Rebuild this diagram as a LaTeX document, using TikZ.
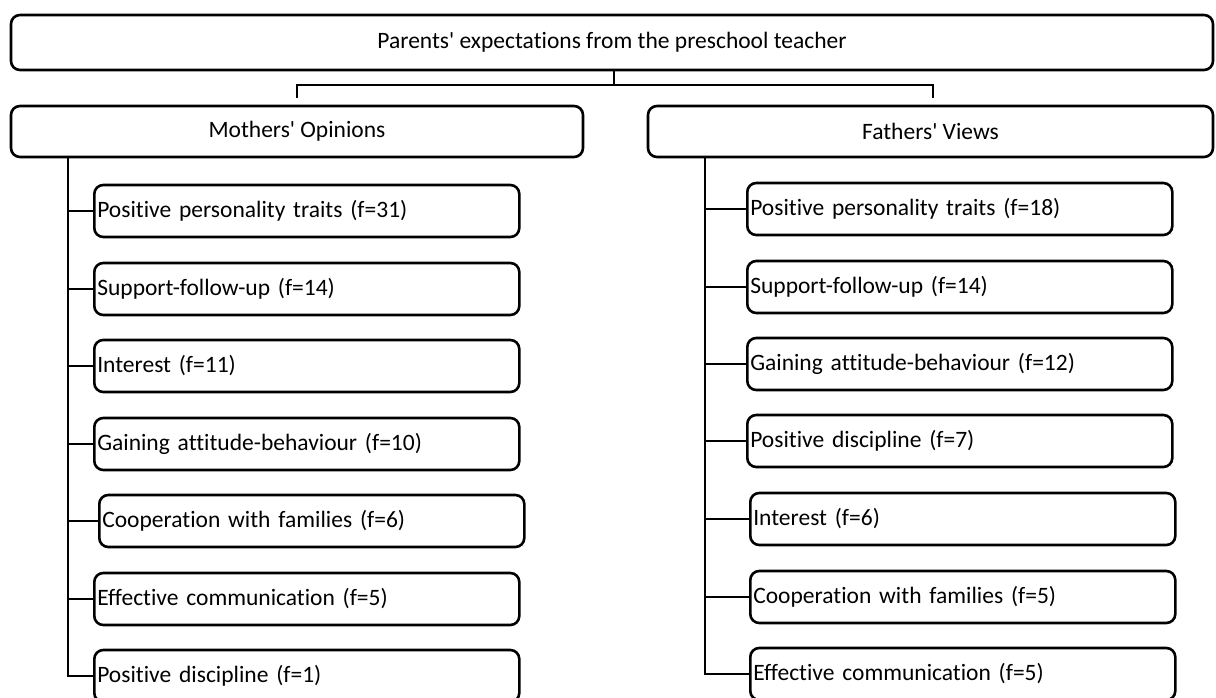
\documentclass[tikz,border=0pt]{standalone}
\usepackage{fontspec}
\setmainfont{Carlito}[Ligatures={TeXOff,CommonOff}]
\begin{document}
\begin{tikzpicture}[x=1pt,y=-1pt,
  box/.style={draw, line width=2.6pt, rounded corners=9pt, inner sep=0pt, font=\fontsize{23.5}{28}\selectfont},
  topbox/.style={box, minimum height=55pt},
  midbox/.style={box, minimum height=51pt},
  leaf/.style={box, anchor=west, minimum height=52pt, text width=419pt, align=left, inner xsep=3pt},
  conn/.style={line width=2.9pt}]
\useasboundingbox (0,0) rectangle (1216,698);
\node[topbox, minimum width=1202pt] (top) at (612,42.5) {Parents' expectations from the preschool teacher};
\node[midbox, minimum width=572pt] (moth) at (297,131.5) {Mothers' Opinions};
\node[midbox, minimum width=565pt] (fath) at (930.5,131.5) {Fathers' Views};
% top connector
\coordinate (mend) at (297,98);
\coordinate (fend) at (933,98);
\coordinate (hub) at (614,85);
\draw[conn] (top.south -| hub) -- (hub);
\draw[conn] (mend) |- (hub) -| (fend);
% left leaves
\node[leaf] (m1) at (93,211) {Positive personality traits (f=31)};
\node[leaf] (m2) at (93,289) {Support-follow-up (f=14)};
\node[leaf] (m3) at (93,366) {Interest (f=11)};
\node[leaf] (m4) at (93,444) {Gaining attitude-behaviour (f=10)};
\node[leaf] (m5) at (98,521) {Cooperation with families (f=6)};
\node[leaf] (m6) at (93,599) {Effective communication (f=5)};
\node[leaf] (m7) at (93,676) {Positive discipline (f=1)};
\coordinate (ml) at (68,157);
\draw[conn] (ml) |- (m7.west);
\foreach \n in {m1,m2,m3,m4,m5,m6}{\draw[conn] (ml |- \n.west) -- (\n.west);}
% right leaves
\node[leaf] (f1) at (746,209) {Positive personality traits (f=18)};
\node[leaf] (f2) at (746,287) {Support-follow-up (f=14)};
\node[leaf] (f3) at (746,364) {Gaining attitude-behaviour (f=12)};
\node[leaf] (f4) at (746,441) {Positive discipline (f=7)};
\node[leaf] (f5) at (749,519) {Interest (f=6)};
\node[leaf] (f6) at (749,597) {Cooperation with families (f=5)};
\node[leaf] (f7) at (749,674) {Effective communication (f=5)};
\coordinate (fl) at (705,157);
\draw[conn] (fl) |- (f7.west);
\foreach \n in {f1,f2,f3,f4,f5,f6}{\draw[conn] (fl |- \n.west) -- (\n.west);}
\end{tikzpicture}
\end{document}
